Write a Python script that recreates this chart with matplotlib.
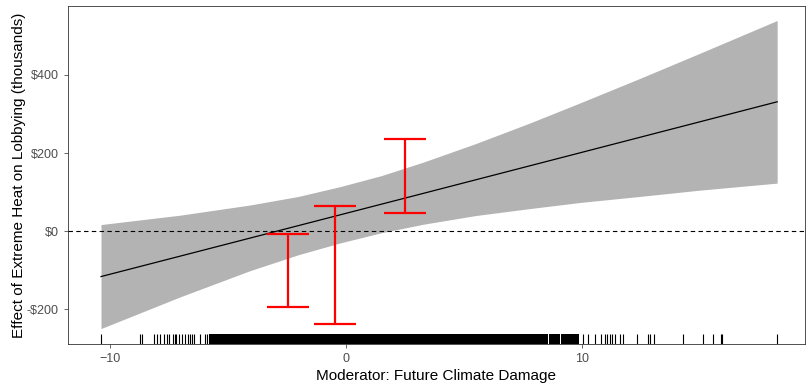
import matplotlib.pyplot as plt
import matplotlib.transforms as mtransforms

plt.rcParams['font.family'] = ['Liberation Sans', 'DejaVu Sans']

# marginal effect line and 95% band
band_x = [-10.37, -7.02, -4.06, -2.0, -0.24, 1.5, 3.3, 5.5, 7.81, 10.0, 12.47, 15.0, 18.28]
band_lo = [-249, -168, -101, -60, -30, -4, 18, 40, 58, 74, 89, 105, 123]
band_hi = [17, 41, 67, 89, 114, 142, 177, 224, 277, 330, 391, 455, 539]
line_x = [-10.37, 3.3, 18.28]
line_y = [-116, 97, 331]

# binned estimates
bin_x = [-2.43, -0.47, 2.51]
bin_lo = [-193, -237, 47]
bin_hi = [-7, 64, 237]

# rug of moderator values
rug_sparse = [-10.37, -8.72, -8.63, -8.11, -7.98, -7.86, -7.69, -7.56, -7.49,
              -7.3, -7.25, -7.19, -7.05, -6.94, -6.81, -6.68, -6.6, -6.5,
              -6.43, -6.17, -5.96, -5.86,
              10.07, 10.28, 10.56, 10.8, 10.99, 11.08, 11.2, 11.3, 11.41,
              11.62, 11.73, 12.36, 12.82, 12.89, 13.08, 14.3, 15.13, 15.58,
              15.89, 15.95, 18.28]
rug_dense = [-5.7, -5.6, -5.5, -5.4, -5.3, -5.2, -5.1, -5.0, -4.9, -4.8,
             -4.7, -4.6, -4.5, -4.4, -4.3, -4.2, -4.1, -4.0, -3.9, -3.8,
             -3.7, -3.6, -3.5, -3.4, -3.3, -3.2, -3.1, -3.0, -2.9, -2.8,
             -2.7, -2.6, -2.5, -2.4, -2.3, -2.2, -2.1, -2.0, -1.9, -1.8,
             -1.7, -1.6, -1.5, -1.4, -1.3, -1.2, -1.1, -1.0, -0.9, -0.8,
             -0.7, -0.6, -0.5, -0.4, -0.3, -0.2, -0.1, 0.0, 0.1, 0.2,
             0.3, 0.4, 0.5, 0.6, 0.7, 0.8, 0.9, 1.0, 1.1, 1.2,
             1.3, 1.4, 1.5, 1.6, 1.7, 1.8, 1.9, 2.0, 2.1, 2.2,
             2.3, 2.4, 2.5, 2.6, 2.7, 2.8, 2.9, 3.0, 3.1, 3.2,
             3.3, 3.4, 3.5, 3.6, 3.7, 3.8, 3.9, 4.0, 4.1, 4.2,
             4.3, 4.4, 4.5, 4.6, 4.7, 4.8, 4.9, 5.0, 5.1, 5.2,
             5.3, 5.4, 5.5, 5.6, 5.7, 5.8, 5.9, 6.0, 6.1, 6.2,
             6.3, 6.4, 6.5, 6.6, 6.7, 6.8, 6.9, 7.0, 7.1, 7.2,
             7.3, 7.4, 7.5, 7.6, 7.7, 7.8, 7.9, 8.0, 8.1, 8.2,
             8.3, 8.4, 8.5, 8.7, 8.8, 8.9, 9.0, 9.2, 9.3, 9.4,
             9.5, 9.6, 9.7, 9.8]

y_ticks = [-200, 0, 200, 400]
y_labels = ['-$200', '$0', '$200', '$400']
x_ticks = [-10, 0, 10]

fig = plt.figure(figsize=(8.11, 3.83), dpi=100)
ax = fig.add_axes([0.0838, 0.1018, 0.9088, 0.8825])

ax.fill_between(band_x, band_lo, band_hi, color='#b3b3b3', linewidth=0, zorder=1)
ax.plot(line_x, line_y, color='black', linewidth=0.9, zorder=2)
ax.axhline(0, color='black', linewidth=0.8, linestyle=(0, (4, 3)), zorder=3)

mid = [(lo + hi) / 2 for lo, hi in zip(bin_lo, bin_hi)]
err = [[m - lo for m, lo in zip(mid, bin_lo)], [hi - m for m, hi in zip(mid, bin_hi)]]
ax.errorbar(bin_x, mid, yerr=err, fmt='none', ecolor='red', elinewidth=1.6,
            capsize=15, capthick=1.6, zorder=4)

trans = mtransforms.blended_transform_factory(ax.transData, ax.transAxes)
ax.vlines(rug_sparse, 0, 0.03, transform=trans, color='black', linewidth=0.8)
ax.vlines(rug_dense, 0, 0.03, transform=trans, color='black', linewidth=2.8,
          antialiased=False)

ax.set_xlim(-11.77, 19.46)
ax.set_ylim(-288.5, 576)
ax.set_xticks(x_ticks)
ax.set_yticks(y_ticks)
ax.set_yticklabels(y_labels)
ax.tick_params(colors='#4d4d4d', labelsize=9, length=3, width=0.6)
for s in ax.spines.values():
    s.set_color('#333333')
    s.set_linewidth(0.6)

ax.set_xlabel('Moderator: Future Climate Damage', fontsize=11, labelpad=3)
ax.set_ylabel('Effect of Extreme Heat on Lobbying (thousands)', fontsize=11, labelpad=1)

fig.savefig('out.png', dpi=100)
